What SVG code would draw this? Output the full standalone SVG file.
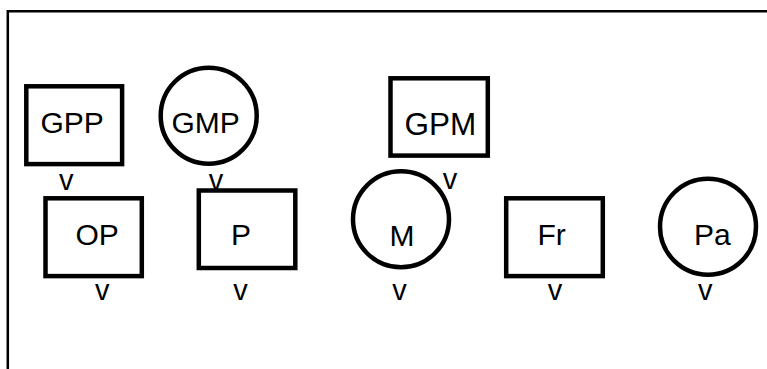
<svg xmlns="http://www.w3.org/2000/svg" width="767" height="369" viewBox="0 0 767 369">
<style>
.n{fill:#fff;stroke:#000;stroke-width:4.5}
.t{font-family:"Liberation Sans",Arial,sans-serif;font-size:30px;fill:#000}
.v{font-family:"Liberation Sans",Arial,sans-serif;font-size:29px;fill:#000;text-anchor:middle}
.b{stroke:#000;stroke-width:2.5;fill:none}
</style>
<rect width="767" height="369" fill="#fff"/>
<g id="frame"><path class="b" d="M7.8 369V11.3H767"/></g>
<g id="GPP"><rect class="n" x="26.3" y="86.3" width="95.8" height="77.8"/><text class="t" x="40.5" y="133.3">GPP</text></g>
<g id="GMP"><circle class="n" cx="208.7" cy="115.7" r="48"/><text class="t" x="171.5" y="133.3">GMP</text></g>
<g id="GPM"><rect class="n" x="390.5" y="78.3" width="97.3" height="77.3"/><text class="t" x="404.5" y="134.5" style="font-size:31.5px">GPM</text></g>
<g id="OP"><rect class="n" x="45.5" y="198.3" width="96.3" height="77.8"/><text class="t" x="75.5" y="245">OP</text></g>
<g id="P"><rect class="n" x="198.8" y="190.5" width="96.5" height="77.5"/><text class="t" x="231" y="245">P</text></g>
<g id="M"><circle class="n" cx="401" cy="219.3" r="48"/><text class="t" x="389.5" y="245.5">M</text></g>
<g id="Fr"><rect class="n" x="506.2" y="198.3" width="96.6" height="77.8"/><text class="t" x="537.5" y="245">Fr</text></g>
<g id="Pa"><circle class="n" cx="708" cy="226.7" r="48"/><text class="t" x="694" y="245">Pa</text></g>
<g id="connectors">
<text class="v" x="66.3" y="189.5">v</text>
<text class="v" x="216" y="189.5">v</text>
<text class="v" x="450" y="188.5">v</text>
<text class="v" x="102.2" y="299.5">v</text>
<text class="v" x="240.5" y="299.5">v</text>
<text class="v" x="399.5" y="299.5">v</text>
<text class="v" x="555" y="299.5">v</text>
<text class="v" x="705.3" y="299.5">v</text>
</g>
</svg>
